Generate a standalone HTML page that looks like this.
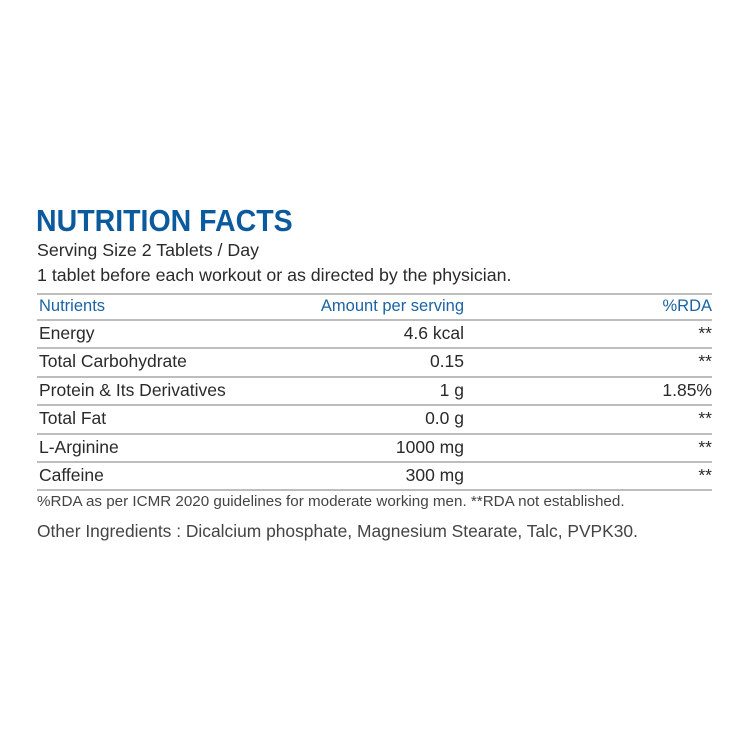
<!DOCTYPE html>
<html><head><style>
body{margin:0;width:750px;height:750px;background:#fff;font-family:"Liberation Sans",sans-serif;position:relative;overflow:hidden;color:#2a2a2a}
.a{position:absolute;white-space:nowrap}
.t{left:36px;top:203px;font-size:31px;font-weight:bold;color:#0b5a9e;transform:scaleX(0.92);transform-origin:left}
.s{font-size:17.8px}
.hl{position:absolute;left:37px;width:675px;height:2px;background:#bdbdbd}
.row{position:absolute;left:37px;width:675px;height:28px;font-size:17.5px;line-height:28px}
.row span{position:absolute}
.n{left:2px}.v{right:248px}.r{right:0}
.h{color:#1b63a3;font-size:16.5px}
</style></head><body>
<div class="a t">NUTRITION FACTS</div>
<div class="a s" style="left:37px;top:240px">Serving Size 2 Tablets / Day</div>
<div class="a s" style="left:37px;top:265px">1 tablet before each workout or as directed by the physician.</div>
<div class="hl" style="top:293px"></div>
<div class="row h" style="top:292px"><span class="n">Nutrients</span><span class="v">Amount per serving</span><span class="r">%RDA</span></div>
<div class="hl" style="top:319px"></div>
<div class="row" style="top:319px"><span class="n">Energy</span><span class="v">4.6 kcal</span><span class="r">**</span></div>
<div class="hl" style="top:347px"></div>
<div class="row" style="top:347px"><span class="n">Total Carbohydrate</span><span class="v">0.15</span><span class="r">**</span></div>
<div class="hl" style="top:376px"></div>
<div class="row" style="top:376px"><span class="n">Protein &amp; Its Derivatives</span><span class="v">1 g</span><span class="r">1.85%</span></div>
<div class="hl" style="top:404px"></div>
<div class="row" style="top:404px"><span class="n">Total Fat</span><span class="v">0.0 g</span><span class="r">**</span></div>
<div class="hl" style="top:433px"></div>
<div class="row" style="top:433px"><span class="n">L-Arginine</span><span class="v">1000 mg</span><span class="r">**</span></div>
<div class="hl" style="top:461px"></div>
<div class="row" style="top:461px"><span class="n">Caffeine</span><span class="v">300 mg</span><span class="r">**</span></div>
<div class="hl" style="top:489px"></div>
<div class="a" style="left:37px;top:493px;font-size:15.2px;color:#444">%RDA as per ICMR 2020 guidelines for moderate working men. **RDA not established.</div>
<div class="a" style="left:37px;top:521px;font-size:17.4px;color:#444">Other Ingredients : Dicalcium phosphate, Magnesium Stearate, Talc, PVPK30.</div>
</body></html>
